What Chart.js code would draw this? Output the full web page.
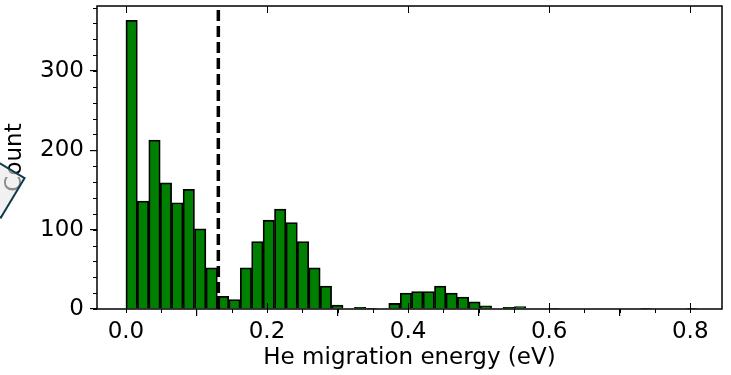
<!DOCTYPE html>
<html>
<head>
<meta charset="utf-8">
<script src="https://cdn.jsdelivr.net/npm/chart.js@4.4.1/dist/chart.umd.min.js"></script>
<style>
    html, body { margin: 0; padding: 0; background: #fff; }
    #wrap { position: relative; width: 731px; height: 375px; overflow: hidden; }
    #badge {
        position: absolute; left: -31px; top: 162px; width: 44px; height: 44px;
        border: 2px solid #0f3b4c; background: rgba(232, 232, 232, 0.6);
        transform: rotate(31deg);
    }
</style>
</head>
<body>
<div id="wrap">
    <canvas id="chart" width="731" height="375"></canvas>
    <div id="badge"></div>
</div>
<script>
// histogram: 50 bins between binStart and binEnd
const binStart = 0.0;
const binEnd = 0.81;
const counts = [
    364, 136, 213, 159, 134, 151, 101, 52, 16, 12,
    52, 85, 112, 126, 109, 85, 52, 29, 5, 0,
    2, 1, 0, 7, 20, 22, 22, 29, 20, 15,
    9, 4, 0, 2, 3, 0, 0, 1, 0, 0,
    0, 0, 0, 0, 0, 1, 0, 0, 0, 1
];
const threshold = 0.131;
const xRange = [-0.041, 0.845];
const yRange = [0, 382];
const xMajor = 0.2, xMinor = 0.05;
const yMajor = 100, yMinor = 20;

const binWidth = (binEnd - binStart) / counts.length;
const bars = counts.map((c, i) => ({ x: binStart + (i + 0.5) * binWidth, y: c }));

Chart.defaults.font.family = 'DejaVu Sans';
Chart.defaults.font.size = 23;
Chart.defaults.color = '#000';

// majors only, multiples of step inside the range
const majorTicks = step => s => {
    const out = [];
    for (let i = Math.ceil(s.min / step); i * step <= s.max + 1e-9; i++) out.push({ value: i * step });
    s.ticks = out;
};

// minor ticks, inward major ticks and the frame
const axisTicks = {
    id: 'axisTicks',
    afterDraw(chart) {
        const { ctx, chartArea: a, scales: { x, y } } = chart;
        ctx.save();
        ctx.strokeStyle = '#000';
        ctx.lineWidth = 1;
        ctx.beginPath();
        for (let i = 0; i * xMinor <= xRange[1]; i++) {
            const px = Math.round(x.getPixelForValue(i * xMinor)) + 0.5;
            ctx.moveTo(px, a.bottom); ctx.lineTo(px, a.bottom + 4);
        }
        for (let i = 0; i * yMinor <= yRange[1]; i++) {
            const py = Math.round(y.getPixelForValue(i * yMinor)) + 0.5;
            ctx.moveTo(a.left, py); ctx.lineTo(a.left - 4, py);
        }
        for (let i = 0; i * xMajor <= xRange[1]; i++) {
            const px = Math.round(x.getPixelForValue(i * xMajor)) + 0.5;
            ctx.moveTo(px, a.bottom); ctx.lineTo(px, a.bottom - 6);
            ctx.moveTo(px, a.top); ctx.lineTo(px, a.top + 7);
        }
        ctx.stroke();
        ctx.lineWidth = 1.5;
        ctx.strokeRect(a.left, a.top, a.right - a.left, a.bottom - a.top);
        ctx.restore();
    }
};

new Chart(document.getElementById('chart'), {
    data: {
        datasets: [
            {
                type: 'line',
                data: [{ x: threshold, y: yRange[0] }, { x: threshold, y: yRange[1] }],
                borderColor: '#000',
                borderWidth: 3.5,
                borderDash: [11, 5],
                pointRadius: 0,
                order: 0
            },
            {
                type: 'bar',
                data: bars,
                backgroundColor: '#008000',
                borderColor: '#000',
                borderWidth: 1.8,
                barPercentage: 1,
                categoryPercentage: 1,
                order: 1
            }
        ]
    },
    options: {
        responsive: false,
        animation: false,
        layout: { padding: { left: 0, right: 9, top: 6, bottom: 0 } },
        plugins: { legend: { display: false }, tooltip: { enabled: false } },
        scales: {
            x: {
                type: 'linear',
                offset: false,
                min: xRange[0],
                max: xRange[1],
                afterFit: s => { s.height = 66; s.paddingLeft = 0; s.paddingRight = 0; },
                afterBuildTicks: majorTicks(xMajor),
                ticks: {
                    padding: 2,
                    callback: v => v.toFixed(1)
                },
                grid: { drawOnChartArea: false, tickLength: 7, color: '#000', lineWidth: 1.2 },
                border: { display: false },
                title: {
                    display: true,
                    text: 'He migration energy (eV)',
                    padding: { top: 0, bottom: 3 }
                }
            },
            y: {
                min: yRange[0],
                max: yRange[1],
                afterFit: s => { s.width = 97; s.paddingTop = 0; s.paddingBottom = 0; },
                afterBuildTicks: majorTicks(yMajor),
                ticks: { padding: 6 },
                grid: { drawOnChartArea: false, tickLength: 7, color: '#000', lineWidth: 1.2 },
                border: { display: false },
                title: {
                    display: true,
                    text: 'Count',
                    padding: { top: 1, bottom: 0 }
                }
            }
        }
    },
    plugins: [axisTicks]
});
</script>
</body>
</html>
